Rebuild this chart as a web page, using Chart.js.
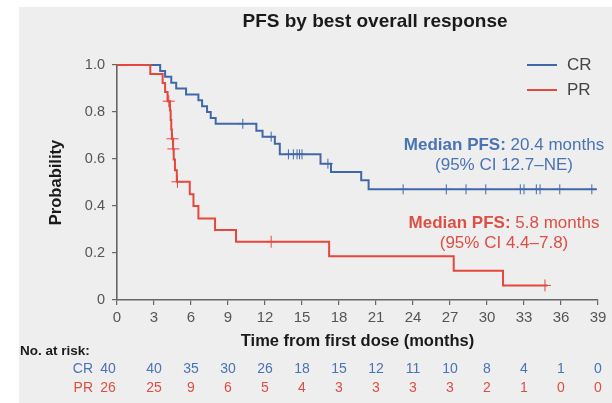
<!DOCTYPE html>
<html>
<head>
<meta charset="utf-8">
<script src="https://cdn.jsdelivr.net/npm/chart.js@4.4.1/dist/chart.umd.min.js"></script>
<style>
  html, body { margin: 0; padding: 0; background: #ffffff; }
  #wrap { position: relative; width: 612px; height: 403px; overflow: hidden; }
  #panel { position: absolute; left: 19px; top: 7px; right: 0; bottom: 0; background: #eeeeee; }
  #c { position: absolute; left: 0; top: 0; }
</style>
</head>
<body>
<div id="wrap"><div id="panel"></div><canvas id="c" width="612" height="403"></canvas></div>
<script>
// Kaplan–Meier step data: event times (months) and survival after each step
const crTime = [0, 3.5, 3.9, 4.4, 4.8, 5.6, 6.6, 6.9, 7.3, 7.6, 8.0, 11.3, 11.8, 12.8, 13.2, 16.5, 17.35, 19.8, 20.4, 38.9];
const crSurv = [1, 0.975, 0.95, 0.925, 0.90, 0.875, 0.85, 0.825, 0.80, 0.775, 0.75, 0.72, 0.695, 0.665, 0.62, 0.58, 0.545, 0.51, 0.471, 0.471];
const crCensor = [10.2, 12.5, 13.9, 14.3, 14.6, 14.8, 15.0, 17.1, 23.2, 26.7, 28.3, 29.9, 32.7, 33.0, 34.0, 34.3, 35.9, 38.5];

const prTime = [0, 2.7, 3.7, 3.9, 4.1, 4.3, 4.35, 4.4, 4.45, 4.55, 4.6, 4.7, 4.85, 5.9, 6.2, 6.6, 7.95, 9.65, 17.2, 27.3, 31.3, 34.9];
const prSurv = [1, 0.962, 0.923, 0.885, 0.846, 0.806, 0.766, 0.726, 0.686, 0.643, 0.598, 0.552, 0.503, 0.45, 0.40, 0.347, 0.298, 0.248, 0.186, 0.124, 0.062, 0.062];
const prCensor = [4.2, 4.5, 4.57, 4.9, 12.5, 34.7];

// Number-at-risk table
const riskTimes = [0, 3, 6, 9, 12, 15, 18, 21, 24, 27, 30, 33, 36, 39];
const riskCR = [40, 40, 35, 30, 26, 18, 15, 12, 11, 10, 8, 4, 1, 0];
const riskPR = [26, 25, 9, 6, 5, 4, 3, 3, 3, 3, 2, 1, 0, 0];

const seriesNames = ['CR', 'PR'];
const medianText = [
  { bold: 'Median PFS:', rest: ' 20.4 months', ci: '(95% CI 12.7\u2013NE)' },
  { bold: 'Median PFS:', rest: ' 5.8 months', ci: '(95% CI 4.4\u20137.8)' }
];
const titleText = 'PFS by best overall response';

const BLUE = '#4068a8';
const RED = '#e5463d';
const BLUE_TXT = '#4a73b4';
const RED_TXT = '#dc4f45';
const FONT = '"Liberation Sans", Arial, Helvetica, sans-serif';

function survAt(times, surv, t) {
  let s = surv[0];
  for (let i = 0; i < times.length; i++) { if (times[i] <= t) s = surv[i]; }
  return s;
}
const toPts = (xs, ys) => xs.map((x, i) => ({ x: x, y: ys[i] }));
const censorPts = (cs, times, surv) => cs.map(t => ({ x: t, y: survAt(times, surv, t) }));

// Title, legend, median annotations and the at-risk table
const extras = {
  id: 'extras',
  afterDraw(chart) {
    const ctx = chart.ctx;
    const xs = chart.scales.x;
    ctx.save();
    ctx.textBaseline = 'middle';

    ctx.fillStyle = '#1a1a1a';
    ctx.font = 'bold 19px ' + FONT;
    ctx.textAlign = 'center';
    ctx.fillText(titleText, 375, 22);

    // legend
    const legendY = [65, 90];
    [BLUE, RED].forEach((c, i) => {
      ctx.strokeStyle = c;
      ctx.lineWidth = 2;
      ctx.beginPath();
      ctx.moveTo(527, legendY[i]);
      ctx.lineTo(557, legendY[i]);
      ctx.stroke();
      ctx.fillStyle = '#444';
      ctx.font = '17px ' + FONT;
      ctx.textAlign = 'left';
      ctx.fillText(seriesNames[i], 567, legendY[i]);
    });

    // median annotations
    const medY = [[145, 165], [223, 243]];
    const medCol = [BLUE_TXT, RED_TXT];
    medianText.forEach((m, i) => {
      ctx.fillStyle = medCol[i];
      ctx.font = 'bold 17px ' + FONT;
      const wb = ctx.measureText(m.bold).width;
      ctx.font = '17px ' + FONT;
      const wr = ctx.measureText(m.rest).width;
      const cx = 504;
      const x0 = cx - (wb + wr) / 2;
      ctx.textAlign = 'left';
      ctx.font = 'bold 17px ' + FONT;
      ctx.fillText(m.bold, x0, medY[i][0]);
      ctx.font = '17px ' + FONT;
      ctx.fillText(m.rest, x0 + wb, medY[i][0]);
      ctx.textAlign = 'center';
      ctx.fillText(m.ci, cx, medY[i][1]);
    });

    // at-risk table
    ctx.fillStyle = '#1a1a1a';
    ctx.font = 'bold 13.5px ' + FONT;
    ctx.textAlign = 'left';
    ctx.fillText('No. at risk:', 20, 351);
    const rows = [[riskCR, BLUE_TXT, 369], [riskPR, RED_TXT, 388]];
    rows.forEach((r, i) => {
      ctx.fillStyle = r[1];
      ctx.font = '14px ' + FONT;
      ctx.textAlign = 'right';
      ctx.fillText(seriesNames[i], 93, r[2]);
      ctx.textAlign = 'center';
      r[0].forEach((v, j) => {
        let px = xs.getPixelForValue(riskTimes[j]);
        if (j === 0) px -= 9;
        ctx.fillText(String(v), px, r[2]);
      });
    });
    ctx.restore();
  }
};

new Chart(document.getElementById('c'), {
  type: 'line',
  data: {
    datasets: [
      { label: 'CR', data: toPts(crTime, crSurv), borderColor: BLUE, borderWidth: 2, stepped: true,
        pointRadius: 0, fill: false, order: 2, clip: 5 },
      { label: 'PR', data: toPts(prTime, prSurv), borderColor: RED, borderWidth: 2, stepped: true,
        pointRadius: 0, fill: false, order: 1, clip: 5 },
      { label: 'CR censored', data: censorPts(crCensor, crTime, crSurv), showLine: false,
        pointStyle: 'cross', pointRadius: 5, borderColor: BLUE, borderWidth: 1, backgroundColor: BLUE,
        order: 2, clip: 8 },
      { label: 'PR censored', data: censorPts(prCensor, prTime, prSurv), showLine: false,
        pointStyle: 'cross', pointRadius: 6, borderColor: RED, borderWidth: 1, backgroundColor: RED,
        order: 1, clip: 8 }
    ]
  },
  options: {
    responsive: false,
    animation: false,
    devicePixelRatio: 1,
    layout: { padding: { left: 40, top: 65, right: 14, bottom: 48 } },
    plugins: { legend: { display: false }, title: { display: false }, tooltip: { enabled: false } },
    scales: {
      x: {
        type: 'linear', min: 0, max: 39,
        ticks: { stepSize: 3, color: '#555', font: { family: FONT, size: 15 }, padding: 4, maxRotation: 0, autoSkip: false },
        grid: { display: true, drawOnChartArea: false, drawTicks: true, tickLength: 5, color: '#666', lineWidth: 1.2 },
        border: { display: true, color: '#666', width: 1.6 },
        title: { display: true, text: 'Time from first dose (months)', color: '#1a1a1a',
                 font: { family: FONT, size: 16.5, weight: 'bold' }, padding: { top: 0, bottom: 4 } },
        afterFit: s => { s.height = 55; }
      },
      y: {
        min: 0, max: 1,
        ticks: { stepSize: 0.2, color: '#555', font: { family: FONT, size: 14.5 }, padding: 7,
                 callback: v => (Math.abs(v) < 1e-9 ? '0' : v.toFixed(1)) },
        grid: { display: true, drawOnChartArea: false, drawTicks: true, tickLength: 5, color: '#666', lineWidth: 1.2 },
        border: { display: true, color: '#666', width: 1.6 },
        title: { display: true, text: 'Probability', color: '#1a1a1a',
                 font: { family: FONT, size: 16.5, weight: 'bold' }, padding: { top: 7, bottom: 0 } },
        afterFit: s => { s.width = 77; }
      }
    }
  },
  plugins: [extras]
});
</script>
</body>
</html>
